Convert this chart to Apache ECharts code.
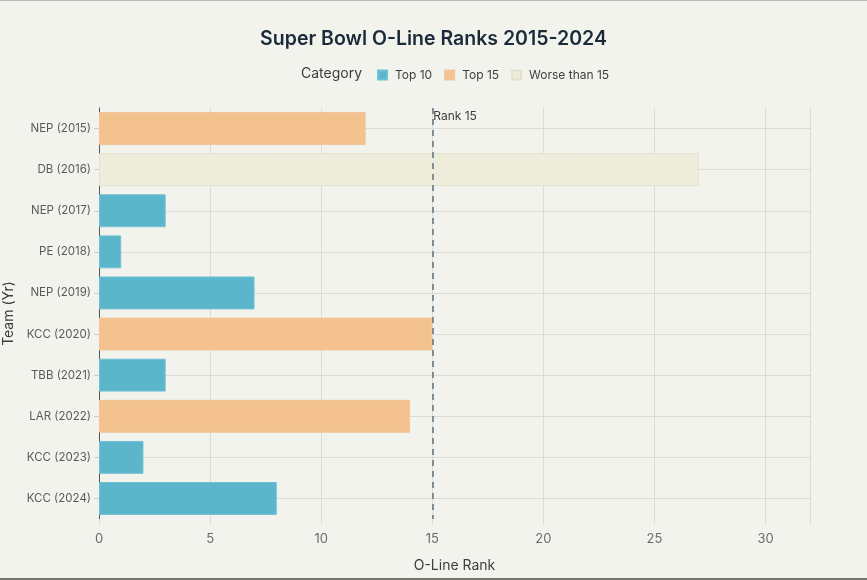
<!DOCTYPE html>
<html><head><meta charset="utf-8">
<script src="https://cdn.jsdelivr.net/npm/echarts@6/dist/echarts.min.js"></script>
<style>
html,body{margin:0;padding:0;background:#f3f3ee;}
#wrap{width:867px;height:580px;box-sizing:border-box;border-top:1px solid #b8b8b4;border-bottom:2px solid #77776f;}
#c{width:867px;height:577px;}
</style></head>
<body><div id="wrap"><div id="c"></div></div>
<script>
const teams = ['NEP (2015)','DB (2016)','NEP (2017)','PE (2018)','NEP (2019)','KCC (2020)','TBB (2021)','LAR (2022)','KCC (2023)','KCC (2024)'];
const ranks = [12, 27, 3, 1, 7, 15, 3, 14, 2, 8];
const categories = ['Top 15','Worse than 15','Top 10','Top 10','Top 10','Top 15','Top 10','Top 15','Top 10','Top 10'];
const categoryNames = ['Top 10','Top 15','Worse than 15'];
const categoryColors = ['#5cb6cb','#f4c28f','#eeecda'];
const borderColors = ['#6fc0d2','#f0c59a','#e4e2cf'];
const xTicks = [0,5,10,15,20,25,30];
const refValue = 15;

const font = 'Inter, "Open Sans", sans-serif';
const series = categoryNames.map((name, i) => ({
  name: name,
  type: 'bar',
  stack: 'all',
  barWidth: '80%',
  z: 3,
  itemStyle: {color: categoryColors[i], borderColor: borderColors[i], borderWidth: 1},
  data: ranks.map((v, j) => categories[j] === name ? v : '-')
}));
// horizontal grid lines at category centres, behind the bars
series.push({
  name: 'grid', type: 'line', data: [], z: 1, silent: true,
  markLine: {
    silent: true, symbol: 'none', label: {show: false}, z: 1,
    lineStyle: {color: '#dcdcd6', width: 1, type: 'solid'},
    data: teams.map(t => ({yAxis: t}))
  }
});
// reference line
series.push({
  name: 'ref', type: 'line', data: [], z: 5, silent: true,
  markLine: {
    silent: true, symbol: 'none', z: 5,
    lineStyle: {color: '#5a7280', width: 1.5, type: [6, 5]},
    label: {show: true, formatter: 'Rank ' + refValue, position: 'start', align: 'left', verticalAlign: 'top',
            offset: [1, 7], color: '#3d3d3d', fontSize: 12, fontFamily: font},
    data: [{xAxis: refValue}]
  }
});

const chart = echarts.init(document.getElementById('c'));
chart.setOption({
  backgroundColor: '#f3f3ee',
  animation: false,
  title: {text: 'Super Bowl O-Line Ranks 2015-2024', left: 'center', top: 23,
    textStyle: {fontFamily: font, fontSize: 19.5, fontWeight: 600, color: '#1b2a38'}},
  legend: {
    data: categoryNames, top: 63, left: 372, itemWidth: 9, itemHeight: 9, itemGap: 12,
    icon: 'rect', textStyle: {fontFamily: font, fontSize: 12, color: '#3d3d3d', padding: [0, 0, 0, 3]}
  },
  graphic: [{type: 'text', left: 301, top: 66, style: {text: 'Category', font: '14px ' + font, fill: '#3d3d3d'}}],
  grid: {left: 99, right: 57, top: 107, bottom: 59, outerBoundsMode: 'none', containLabel: false},
  xAxis: {
    type: 'value', min: 0, max: 32, interval: 5,
    name: 'O-Line Rank', nameLocation: 'middle', nameGap: 40,
    nameTextStyle: {fontFamily: font, fontSize: 14, color: '#3d3d3d'},
    axisLine: {show: false},
    axisTick: {show: true, length: 5, lineStyle: {color: '#dcdcd6'}},
    axisLabel: {fontFamily: font, fontSize: 13, color: '#6b6b6b', margin: 14,
      formatter: v => xTicks.includes(v) ? String(v) : ''},
    splitLine: {show: true, lineStyle: {color: '#dcdcd6'}}
  },
  yAxis: {
    type: 'category', data: teams, inverse: true,
    name: 'Team (Yr)', nameLocation: 'middle', nameGap: 81, nameRotate: 90,
    nameTextStyle: {fontFamily: font, fontSize: 14, color: '#3d3d3d'},
    axisLine: {show: true, lineStyle: {color: '#555555', width: 1}},
    axisTick: {show: true, alignWithLabel: true, length: 5, lineStyle: {color: '#cfcfca'}},
    axisLabel: {fontFamily: font, fontSize: 11.5, color: '#5a5a5a', margin: 8},
    splitLine: {show: false}
  },
  series: series
});
</script></body></html>
